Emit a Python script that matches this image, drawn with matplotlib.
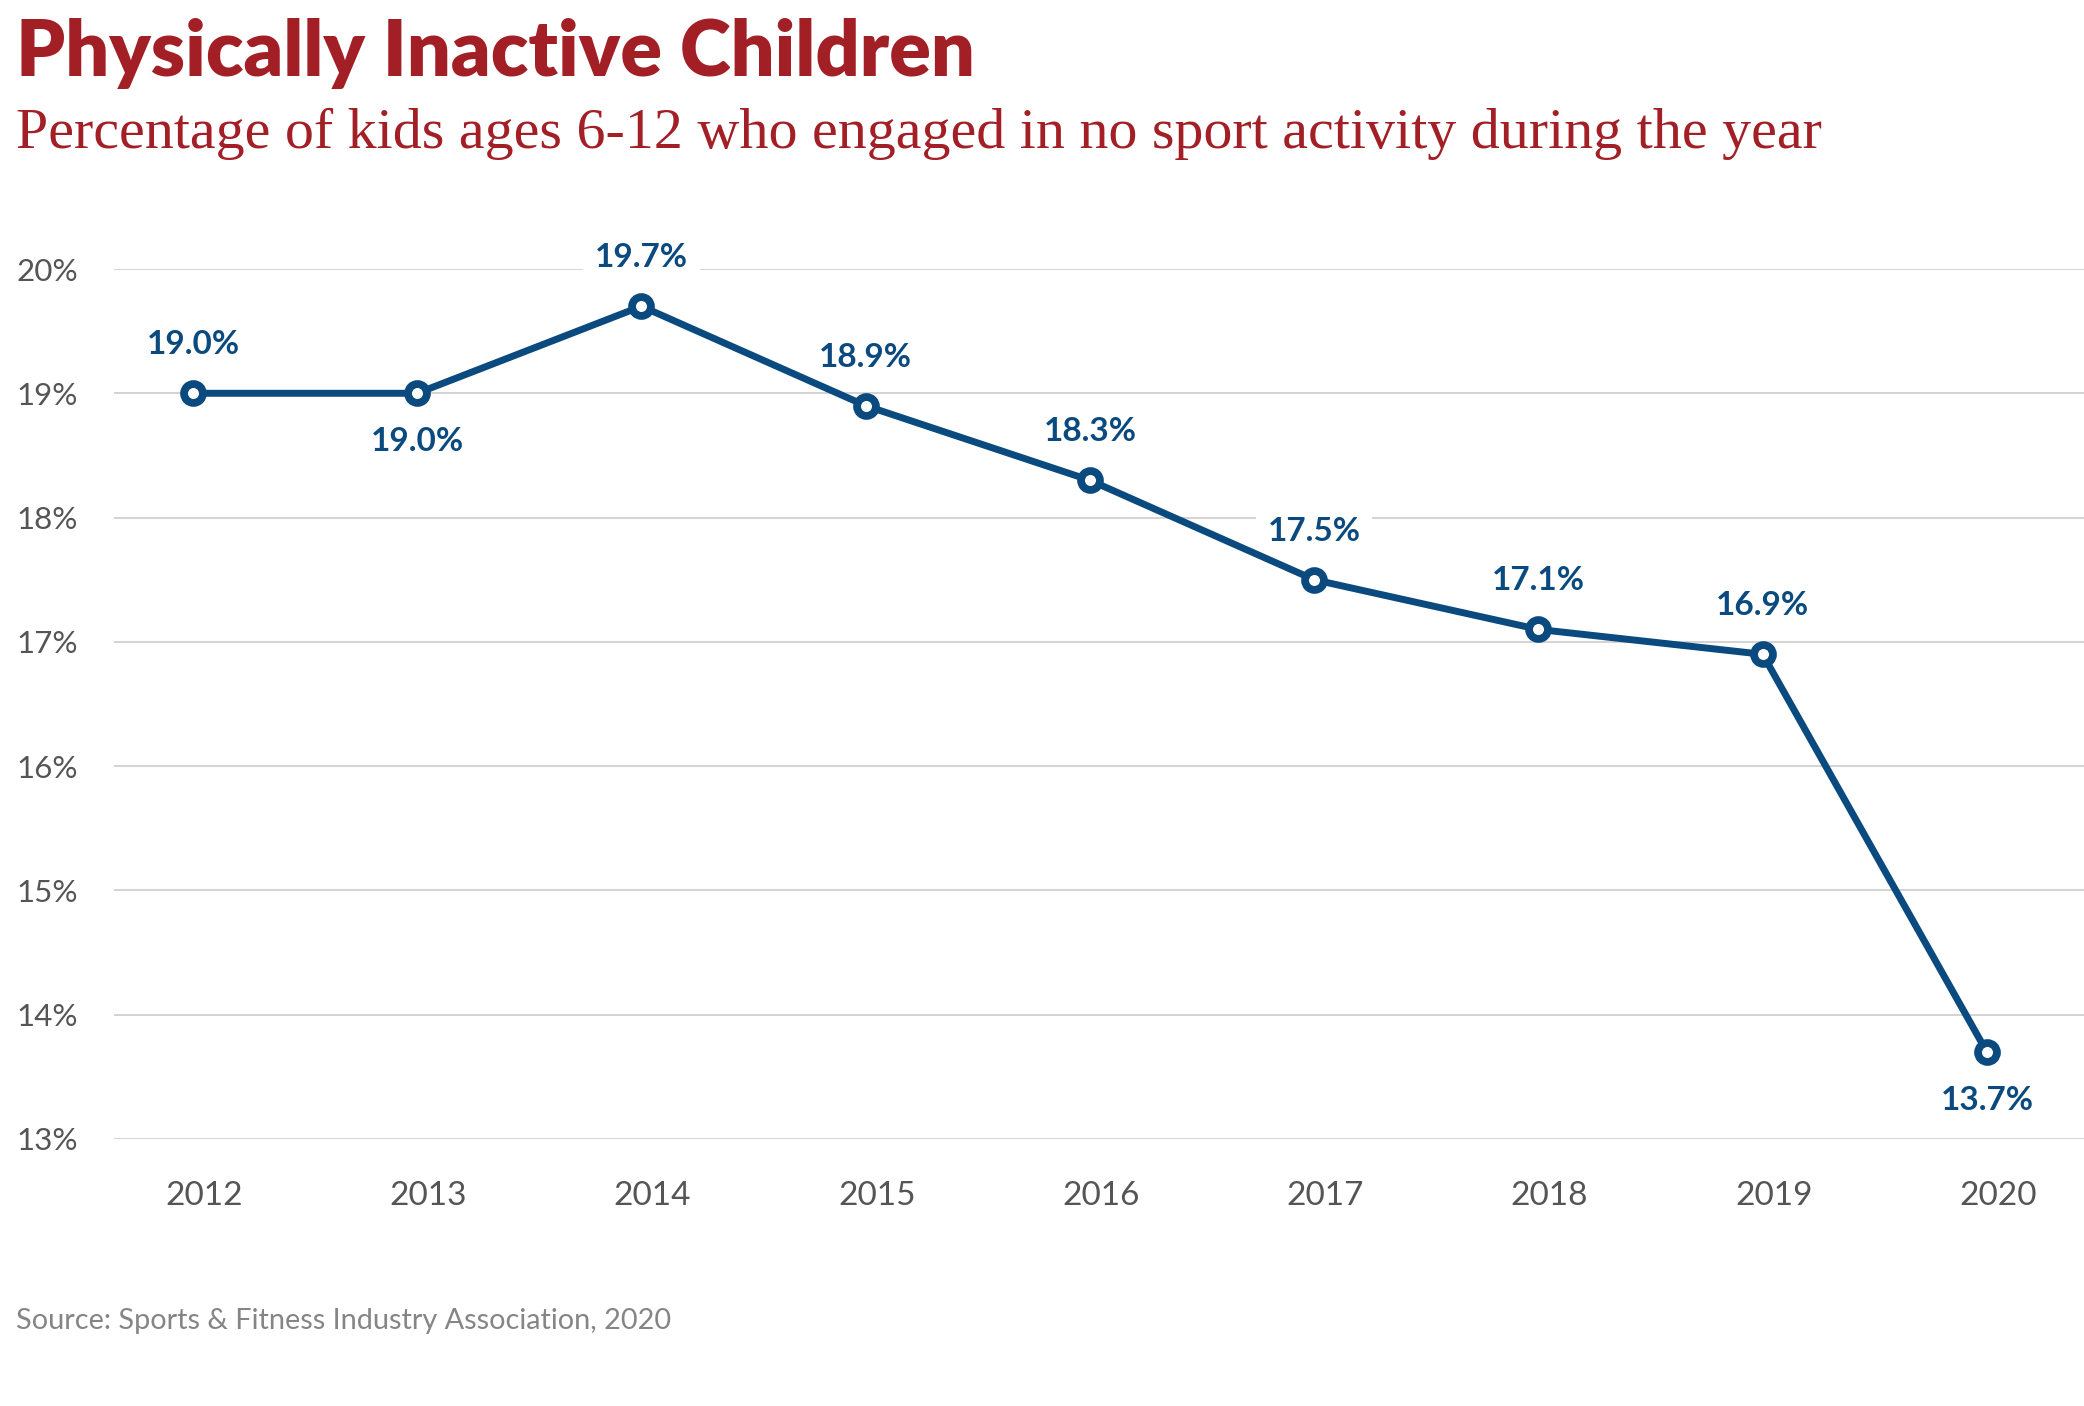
import matplotlib
matplotlib.use("Agg")
import matplotlib.pyplot as plt
import matplotlib.transforms as mtransforms

years = ["2012", "2013", "2014", "2015", "2016", "2017", "2018", "2019", "2020"]
values = [19.0, 19.0, 19.7, 18.9, 18.3, 17.5, 17.1, 16.9, 13.7]
label_below = [False, True, False, False, False, False, False, False, True]
yticks = [13, 14, 15, 16, 17, 18, 19, 20]

title = "Physically Inactive Children"
subtitle = "Percentage of kids ages 6-12 who engaged in no sport activity during the year"
source = "Source: Sports & Fitness Industry Association, 2020"

RED = "#a31f26"
BLUE = "#0b4a7e"
GRAY = "#555555"

DPI = 200
W, H = 2084, 1406
fig = plt.figure(figsize=(W / DPI, H / DPI), dpi=DPI)
fig.patch.set_facecolor("white")

ax_left, ax_right = 114 / W, 1.0
ax_bottom, ax_top = (H - 1139) / H, (H - 269) / H
ax = fig.add_axes([ax_left, ax_bottom, ax_right - ax_left, ax_top - ax_bottom])

x = list(range(len(years)))
ax.set_xlim(-0.352, 8.433)
ax.set_ylim(13, 20)

for yv in yticks:
    ax.axhline(yv, color="#cccccc", lw=0.6, zorder=0)

ax.plot(x, values, color=BLUE, lw=2.5, zorder=3, solid_capstyle="round",
        marker="o", ms=6.8, mfc="white", mec=BLUE, mew=2.8, clip_on=False)

for xi, v, below in zip(x, values, label_below):
    dy = -17.5 if below else 17.5
    ax.annotate(f"{v:.1f}%", (xi, v), xytext=(0, dy), textcoords="offset points",
                ha="center", va="center", fontsize=12, fontweight="bold",
                family=["Lato", "DejaVu Sans"], color=BLUE, zorder=2,
                bbox=dict(boxstyle="square,pad=0.35", fc="white", ec="none"))

for s in ax.spines.values():
    s.set_visible(False)

ax.set_yticks(yticks)
ax.set_yticklabels([f"{t}%" for t in yticks])
ax.set_xticks(x)
ax.set_xticklabels(years)
ax.tick_params(axis="y", length=0, pad=13, labelsize=11.3, labelcolor=GRAY)
ax.tick_params(axis="x", length=0, pad=15, labelsize=12, labelcolor=GRAY)
offset = mtransforms.ScaledTranslation(4 / 72, 0, fig.dpi_scale_trans)
for lab in ax.get_xticklabels():
    lab.set_transform(lab.get_transform() + offset)
for lab in ax.get_xticklabels() + ax.get_yticklabels():
    lab.set_family(["Lato", "DejaVu Sans"])
    lab.set_fontweight("normal")

fig.text(16 / W, 1 - 76 / H, title, ha="left", va="baseline", fontsize=27.8,
         fontweight="heavy", color=RED, family=["Lato", "DejaVu Sans"])
fig.text(16 / W, 1 - 148 / H, subtitle, ha="left", va="baseline", fontsize=20.9,
         color=RED, family=["Liberation Serif", "DejaVu Serif"])
fig.text(16 / W, 1 - 1321 / H, source, ha="left", va="center", fontsize=10.4,
         color="#858585", family=["Lato", "DejaVu Sans"])

fig.savefig("out.png", dpi=DPI, facecolor="white")
